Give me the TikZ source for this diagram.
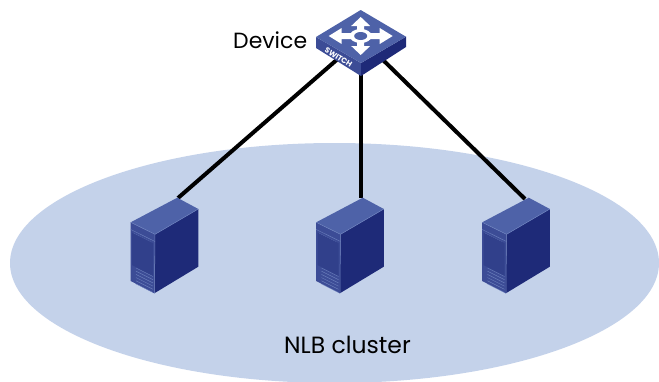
\documentclass[tikz,border=0pt]{standalone}
\usepackage{fontspec}
\setmainfont{Poppins}
\definecolor{cluster}{RGB}{196,210,234}
\definecolor{topf}{RGB}{78,98,168}
\definecolor{frontf}{RGB}{60,76,150}
\definecolor{sidef}{RGB}{30,42,120}
\definecolor{linef}{RGB}{110,130,190}
\tikzset{
  link/.style={line width=4pt,black},
  lbl/.style={text=black,inner sep=0pt},
  srv/.pic={
    \fill[frontf] (130.7,222.3) -- (155,234.3) -- (154.3,293.3) -- (130.7,281) -- cycle;
    \fill[sidef] (155,234.3) -- (198.3,209) -- (198.3,266.7) -- (154.3,293.3) -- cycle;
    \fill[topf] (177.3,197.7) -- (198.3,209) -- (155,234.3) -- (130.7,222.3) -- cycle;
    \draw[linef,line width=.5pt] (130.7,222.3) -- (155,234.3) -- (198.3,209);
    \draw[linef,line width=.5pt] (155,234.3) -- (154.5,293);
    \draw[linef,line width=.4pt] (130.7,229.5) -- (155,241.5);
    \draw[linef,line width=.4pt] (133,233) -- (151.5,242.5);
    \fill[sidef!35!frontf] (132,232.5) -- (153,243) -- (153,276) -- (132,265) -- cycle;
    \foreach \d in {0,3.2,6.4,9.6,12.8,16}
      \draw[linef,line width=.4pt] (136,268+\d) -- (153,276.5+\d);
  }
}
\begin{document}
\begin{tikzpicture}[x=1pt,y=-1pt]
\useasboundingbox (0,0) rectangle (659,381);
\begin{scope}
\clip (0,0) rectangle (659,381);
\fill[cluster] (334.5,263) ellipse [x radius=324.5,y radius=120];
\end{scope}
\coordinate (swA) at (340,57);
\coordinate (swB) at (361,70);
\coordinate (swC) at (382,59);
\coordinate (srvA) at (178,198);
\coordinate (srvB) at (361,198);
\coordinate (srvC) at (525,199);
\draw[link] (swA) -- (srvA);
\draw[link] (swB) -- (srvB);
\draw[link] (swC) -- (srvC);
\pic at (0,0) {srv};
\pic at (185.5,0) {srv};
\pic at (351.5,0) {srv};
% switch
\fill[frontf] (316,37) -- (361,63) -- (361,76) -- (316,48) -- cycle;
\fill[sidef] (361,63) -- (406,36.7) -- (406,47) -- (361,76) -- cycle;
\fill[topf] (360.7,10) -- (406,36.7) -- (361,63) -- (316,37) -- cycle;
\begin{scope}[shift={(360.7,36)}]
\fill[white] (0,-19) -- (9.5,-10) -- (3.5,-10) -- (3.5,-5) -- (-3.5,-5) -- (-3.5,-10) -- (-9.5,-10) -- cycle;
\fill[white] (0,19) -- (9.5,10) -- (3.5,10) -- (3.5,5) -- (-3.5,5) -- (-3.5,10) -- (-9.5,10) -- cycle;
\fill[white] (32,0) -- (19,-8) -- (19,-3) -- (9,-3) -- (9,3) -- (19,3) -- (19,8) -- cycle;
\fill[white] (-32,0) -- (-19,-8) -- (-19,-3) -- (-9,-3) -- (-9,3) -- (-19,3) -- (-19,8) -- cycle;
\fill[white] (0,0) ellipse [x radius=11,y radius=7];
\fill[topf] (0,0) ellipse [x radius=6.5,y radius=4];
\end{scope}
\node[font=\bfseries\fontsize{7.6}{8}\selectfont,text=white,inner sep=0pt,
  rotate=-32] (swlabel) at (338.5,57.5) {SWITCH};
\node[lbl,anchor=west,font=\fontsize{22}{24}\selectfont] (device) at (233,40) {Device};
\node[lbl,anchor=west,font=\fontsize{23.5}{26}\selectfont] (nlb) at (284,344.5) {NLB cluster};
\end{tikzpicture}
\end{document}
